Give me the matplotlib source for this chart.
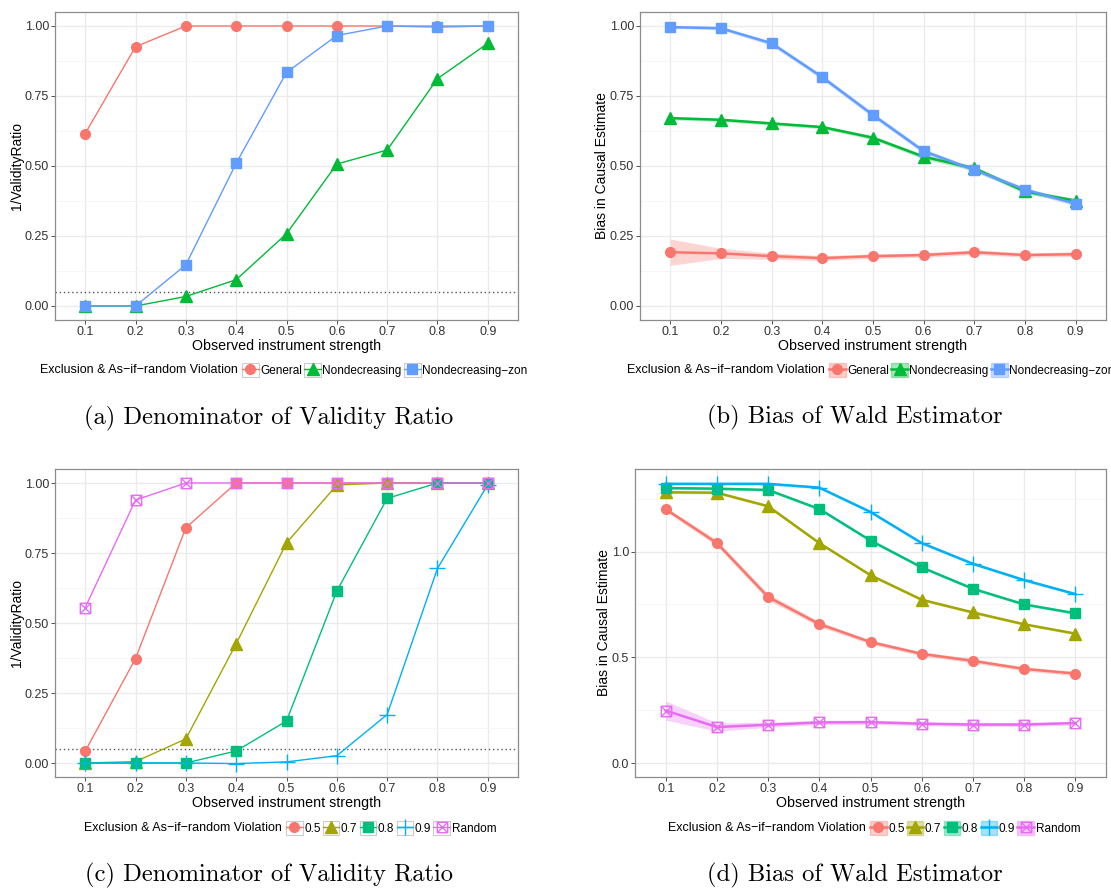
import numpy as np
import matplotlib.pyplot as plt
from matplotlib.lines import Line2D
from matplotlib.patches import Rectangle
from matplotlib.path import Path
from matplotlib.legend_handler import HandlerTuple

plt.rcParams['font.family'] = ['Liberation Sans', 'DejaVu Sans']

W, H = 1111, 888

# ---------------------------------------------------------------------------
# Data
# ---------------------------------------------------------------------------

strength = [0.1, 0.2, 0.3, 0.4, 0.5, 0.6, 0.7, 0.8, 0.9]
strength_labels = ['0.1', '0.2', '0.3', '0.4', '0.5', '0.6', '0.7', '0.8', '0.9']

# (a) denominator of validity ratio by violation type
denom_general = [0.616, 0.926, 1.0, 1.0, 1.0, 1.0, 1.0, 1.0, 1.0]
denom_nondec = [0.0, 0.0, 0.034, 0.094, 0.258, 0.507, 0.557, 0.812, 0.938]
denom_nondec_zon = [0.0, 0.0, 0.147, 0.510, 0.834, 0.966, 1.0, 0.996, 1.0]

# (b) bias of Wald estimator by violation type (mean, ribbon half-width)
bias_general = [0.192, 0.188, 0.178, 0.171, 0.178, 0.182, 0.192, 0.182, 0.185]
bias_general_ci = [0.047, 0.018, 0.011, 0.009, 0.008, 0.008, 0.008, 0.008, 0.008]
bias_nondec = [0.671, 0.665, 0.652, 0.639, 0.601, 0.533, 0.492, 0.409, 0.376]
bias_nondec_ci = [0.006, 0.006, 0.006, 0.006, 0.007, 0.008, 0.008, 0.008, 0.008]
bias_nondec_zon = [0.996, 0.992, 0.938, 0.817, 0.682, 0.553, 0.486, 0.416, 0.365]
bias_nondec_zon_ci = [0.005, 0.006, 0.008, 0.009, 0.009, 0.009, 0.008, 0.008, 0.008]

# (c) denominator of validity ratio by violation level
denom_05 = [0.042, 0.373, 0.840, 1.0, 1.0, 1.0, 1.0, 1.0, 1.0]
denom_07 = [0.0, 0.005, 0.086, 0.426, 0.786, 0.993, 1.0, 1.0, 1.0]
denom_08 = [0.0, 0.0, 0.0, 0.043, 0.150, 0.614, 0.945, 1.0, 1.0]
denom_09 = [0.0, 0.0, 0.0, -0.002, 0.004, 0.026, 0.173, 0.695, 0.994]
denom_random = [0.555, 0.939, 1.0, 1.0, 1.0, 1.0, 1.0, 1.0, 1.0]

# (d) bias of Wald estimator by violation level
bias_05 = [1.200, 1.040, 0.785, 0.657, 0.572, 0.516, 0.483, 0.445, 0.423]
bias_05_ci = [0.010, 0.014, 0.015, 0.012, 0.010, 0.010, 0.010, 0.010, 0.010]
bias_07 = [1.280, 1.278, 1.214, 1.040, 0.888, 0.772, 0.712, 0.656, 0.612]
bias_07_ci = [0.006, 0.006, 0.006, 0.006, 0.006, 0.006, 0.006, 0.006, 0.006]
bias_08 = [1.300, 1.297, 1.291, 1.201, 1.052, 0.925, 0.824, 0.750, 0.708]
bias_08_ci = [0.006, 0.006, 0.006, 0.006, 0.006, 0.006, 0.006, 0.006, 0.006]
bias_09 = [1.320, 1.320, 1.320, 1.302, 1.187, 1.040, 0.942, 0.865, 0.799]
bias_09_ci = [0.006, 0.006, 0.006, 0.006, 0.006, 0.006, 0.006, 0.006, 0.006]
bias_random = [0.248, 0.170, 0.181, 0.192, 0.193, 0.186, 0.182, 0.182, 0.189]
bias_random_ci = [0.045, 0.020, 0.012, 0.010, 0.010, 0.009, 0.009, 0.009, 0.009]

type_labels = ['General', 'Nondecreasing', 'Nondecreasing\u2212zon']
level_labels = ['0.5', '0.7', '0.8', '0.9', 'Random']
legend_title = 'Exclusion & As\u2212if\u2212random Violation'

# ggplot hue palettes
pal3 = ['#F8766D', '#00BA38', '#619CFF']
pal5 = ['#F8766D', '#A3A500', '#00BF7D', '#00B0F6', '#E76BF3']

# square with an X through it (ggplot shape 7)
boxed_x = Path(
    [(-1, -1), (1, -1), (1, 1), (-1, 1), (-1, -1), (-1, -1), (1, 1), (-1, 1), (1, -1)],
    [Path.MOVETO, Path.LINETO, Path.LINETO, Path.LINETO, Path.CLOSEPOLY,
     Path.MOVETO, Path.LINETO, Path.MOVETO, Path.LINETO],
)

marker_specs = {
    'o': dict(marker='o', ms=7),
    '^': dict(marker='^', ms=8),
    's': dict(marker='s', ms=7.5),
    '+': dict(marker='+', ms=11, mew=1.0),
    'bx': dict(marker=boxed_x, ms=7.5, mfc='none', mew=1.0),
}


def px_axes(fig, x0, y0, x1, y1):
    return fig.add_axes([x0 / W, 1 - y1 / H, (x1 - x0) / W, (y1 - y0) / H])


def style_axes(ax, ylim, yticks, ylabels, yminor, ylabel):
    ax.set_xlim(0.04, 0.96)
    ax.set_ylim(*ylim)
    ax.set_xticks(strength)
    ax.set_xticklabels(strength_labels)
    ax.set_yticks(yticks)
    ax.set_yticklabels(ylabels)
    ax.set_yticks(yminor, minor=True)
    ax.grid(True, which='major', color='#EBEBEB', linewidth=1.0, zorder=0)
    ax.grid(True, which='minor', axis='y', color='#F5F5F5', linewidth=0.6, zorder=0)
    ax.set_axisbelow(True)
    ax.tick_params(which='major', length=2.8, width=0.6, color='#333333',
                   labelsize=9, labelcolor='#333333', pad=1.5)
    ax.tick_params(which='minor', length=0)
    for s in ax.spines.values():
        s.set_color('#8C8C8C')
        s.set_linewidth(0.9)
    ax.set_xlabel('Observed instrument strength', fontsize=10.3, labelpad=1)
    ax.set_ylabel(ylabel, fontsize=10.0, labelpad=0.5)


def draw_series(ax, ys, colors, markers, lw, cis=None):
    # ribbons and lines first, then points, as layers
    for i, y in enumerate(ys):
        y = np.asarray(y)
        if cis is not None:
            ci = np.asarray(cis[i])
            ax.fill_between(strength, y - ci, y + ci, color=colors[i], alpha=0.3,
                            linewidth=0, zorder=2)
        ax.plot(strength, y, color=colors[i], linewidth=lw, zorder=3)
    for i, y in enumerate(ys):
        spec = dict(marker_specs[markers[i]])
        if 'mfc' not in spec:
            spec['mfc'] = colors[i]
        ax.plot(strength, y, linestyle='none', color=colors[i], zorder=4, **spec)


def add_legend(fig, x_title, y, labels, colors, markers, lw, ribbon=False):
    handles = []
    for c, m in zip(colors, markers):
        if ribbon:
            box = Rectangle((0, 0), 1, 1, facecolor=c, alpha=0.35, edgecolor=c, linewidth=1.0)
        else:
            box = Rectangle((0, 0), 1, 1, facecolor='white', edgecolor='#CCCCCC', linewidth=0.8)
        spec = dict(marker_specs[m])
        if 'mfc' not in spec:
            spec['mfc'] = c
        ln = Line2D([], [], color=c, linewidth=lw, **spec)
        handles.append((box, ln))
    fig.text(x_title / W, 1 - y / H, legend_title, ha='right', va='center', fontsize=9)
    fig.legend(handles, labels, loc='center left',
               bbox_to_anchor=((x_title + 4) / W, 1 - y / H),
               ncol=len(labels), frameon=False, fontsize=8.5,
               handler_map={tuple: HandlerTuple(ndivide=1, pad=0)},
               handlelength=1.4, handleheight=1.4, handletextpad=0.13,
               columnspacing=0.2, borderpad=0, borderaxespad=0)


def caption(fig, x, y, text):
    fig.text(x / W, 1 - y / H, text, ha='center', va='center',
             fontsize=17.7, family='cmr10')


fig = plt.figure(figsize=(W / 100, H / 100), dpi=100)

# ---------------------------------------------------------------------------
# (a) Denominator of validity ratio, violation types
# ---------------------------------------------------------------------------
ax = px_axes(fig, 55, 12, 518, 320)
style_axes(ax, (-0.05, 1.05), [0, 0.25, 0.5, 0.75, 1.0],
           ['0.00', '0.25', '0.50', '0.75', '1.00'],
           [0.125, 0.375, 0.625, 0.875], '1/ValidityRatio')
ax.axhline(0.05, color='#555555', linestyle=(0, (1, 2)), linewidth=1.0, zorder=2)
draw_series(ax, [denom_general, denom_nondec, denom_nondec_zon], pal3, ['o', '^', 's'], 1.0)
add_legend(fig, 238, 370, type_labels, pal3, ['o', '^', 's'], 1.0)
caption(fig, 269, 418, '(a) Denominator of Validity Ratio')

# ---------------------------------------------------------------------------
# (b) Bias of Wald estimator, violation types
# ---------------------------------------------------------------------------
ax = px_axes(fig, 640, 12, 1106, 320)
style_axes(ax, (-0.05, 1.05), [0, 0.25, 0.5, 0.75, 1.0],
           ['0.00', '0.25', '0.50', '0.75', '1.00'],
           [0.125, 0.375, 0.625, 0.875], 'Bias in Causal Estimate')
draw_series(ax, [bias_general, bias_nondec, bias_nondec_zon], pal3, ['o', '^', 's'], 1.8,
            cis=[bias_general_ci, bias_nondec_ci, bias_nondec_zon_ci])
add_legend(fig, 825, 370, type_labels, pal3, ['o', '^', 's'], 1.8, ribbon=True)
caption(fig, 855, 417, '(b) Bias of Wald Estimator')

# ---------------------------------------------------------------------------
# (c) Denominator of validity ratio, violation levels
# ---------------------------------------------------------------------------
level_markers = ['o', '^', 's', '+', 'bx']
ax = px_axes(fig, 55, 469, 518, 777)
style_axes(ax, (-0.05, 1.05), [0, 0.25, 0.5, 0.75, 1.0],
           ['0.00', '0.25', '0.50', '0.75', '1.00'],
           [0.125, 0.375, 0.625, 0.875], '1/ValidityRatio')
ax.axhline(0.05, color='#555555', linestyle=(0, (1, 2)), linewidth=1.0, zorder=2)
draw_series(ax, [denom_05, denom_07, denom_08, denom_09, denom_random], pal5, level_markers, 1.0)
add_legend(fig, 282, 828, level_labels, pal5, level_markers, 1.0)
caption(fig, 269, 875, '(c) Denominator of Validity Ratio')

# ---------------------------------------------------------------------------
# (d) Bias of Wald estimator, violation levels
# ---------------------------------------------------------------------------
ax = px_axes(fig, 635, 469, 1106, 777)
style_axes(ax, (-0.066, 1.39), [0, 0.5, 1.0], ['0.0', '0.5', '1.0'],
           [0.25, 0.75, 1.25], 'Bias in Causal Estimate')
draw_series(ax, [bias_05, bias_07, bias_08, bias_09, bias_random], pal5, level_markers, 1.8,
            cis=[bias_05_ci, bias_07_ci, bias_08_ci, bias_09_ci, bias_random_ci])
add_legend(fig, 866, 828, level_labels, pal5, level_markers, 1.8, ribbon=True)
caption(fig, 855, 875, '(d) Bias of Wald Estimator')

fig.savefig('out.png', dpi=100)
